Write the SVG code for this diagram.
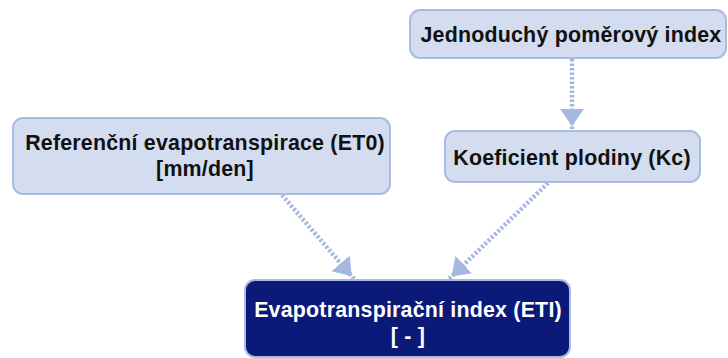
<svg xmlns="http://www.w3.org/2000/svg" width="728" height="358" viewBox="0 0 728 358">
  <defs>
    <style>
      .box { fill: #d3ddef; stroke: #a8bbe3; stroke-width: 2; }
      .dark { fill: #0b1a78; stroke: #a8bbe3; stroke-width: 2; }
      .t { font-family: "Liberation Sans", Arial, sans-serif; font-weight: bold; font-size: 21.4px; letter-spacing: 0.2px; text-anchor: middle; fill: #111; }
      .tw { fill: #ffffff; }
      .conn { stroke: #a4b8e2; stroke-width: 4.5; stroke-dasharray: 2.5 2; fill: none; marker-end: url(#arr); }
    </style>
    <marker id="arr" markerUnits="userSpaceOnUse" markerWidth="28" markerHeight="26" viewBox="0 0 28 26" refX="22" refY="12" orient="auto">
      <path d="M0,0 L17,12 L0,24 z" fill="#a4b8e2"/>
    </marker>
  </defs>
  <g id="connectors">
    <line class="conn" x1="572" y1="59" x2="572" y2="131"/>
    <line class="conn" x1="282" y1="195" x2="355" y2="280"/>
    <line class="conn" x1="548" y1="183" x2="448" y2="280"/>
  </g>
  <g id="node-jpi">
    <rect class="box" x="410" y="10" width="316" height="48" rx="10"/>
    <text class="t" x="571" y="42">Jednoduchý poměrový index</text>
  </g>
  <g id="node-et0">
    <rect class="box" x="13" y="118" width="377" height="76" rx="10"/>
    <text class="t" x="205" y="150">Referenční evapotranspirace (ET0)</text>
    <text class="t" x="205" y="176">[mm/den]</text>
  </g>
  <g id="node-kc">
    <rect class="box" x="445" y="131" width="255" height="51" rx="10"/>
    <text class="t" x="572" y="165">Koeficient plodiny (Kc)</text>
  </g>
  <g id="node-eti">
    <rect class="dark" x="245" y="280" width="325" height="77" rx="10"/>
    <text class="t tw" x="408" y="317">Evapotranspirační index (ETI)</text>
    <text class="t tw" x="408" y="343">[ - ]</text>
  </g>
</svg>
